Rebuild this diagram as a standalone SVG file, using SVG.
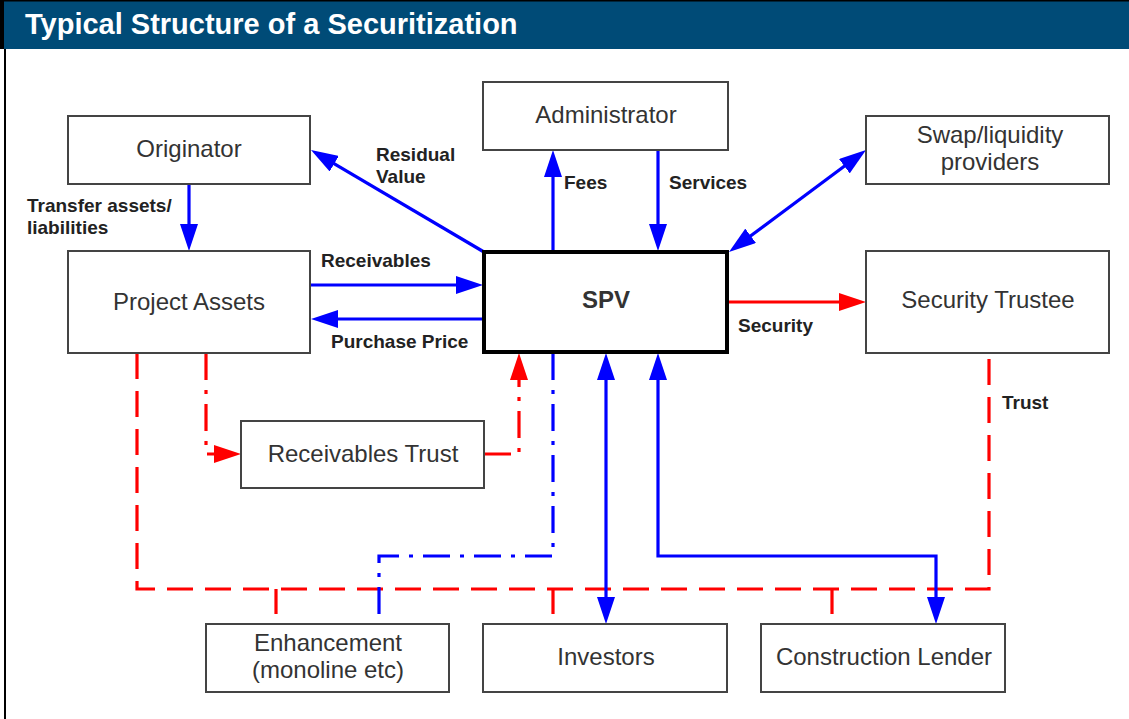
<svg xmlns="http://www.w3.org/2000/svg" width="1129" height="719" viewBox="0 0 1129 719">
<style>
.box{fill:#fff;stroke:#444;stroke-width:2}
.spv{fill:#fff;stroke:#000;stroke-width:4}
.bt{font-family:"Liberation Sans",Arial,sans-serif;font-size:24px;fill:#333;text-anchor:middle}
.lb{font-family:"Liberation Sans",Arial,sans-serif;font-size:19px;font-weight:bold;fill:#222}
.bl{fill:none;stroke:#0000ff;stroke-width:3.2}
.rd{fill:none;stroke:#ff0000;stroke-width:3.2}
.dash{stroke-dasharray:26 12}
.dd{stroke-dasharray:27 10 4 10}
</style>
<defs>
<marker id="ab" markerUnits="userSpaceOnUse" viewBox="0 0 27 18" markerWidth="27" markerHeight="18" refX="17" refY="9" orient="auto-start-reverse"><path d="M0,0 L27,9 L0,18 z" fill="#0000ff"/></marker>
<marker id="ar" markerUnits="userSpaceOnUse" viewBox="0 0 27 18" markerWidth="27" markerHeight="18" refX="17" refY="9" orient="auto-start-reverse"><path d="M0,0 L27,9 L0,18 z" fill="#ff0000"/></marker>
</defs>
<rect x="0" y="0" width="1129" height="719" fill="#fff"/>
<g id="header">
<rect x="0" y="0" width="1129" height="49" fill="#004b77"/>
<rect x="0" y="0" width="1129" height="1.5" fill="#000"/>
<rect x="0" y="0" width="4" height="49" fill="#000"/>
<rect x="4" y="49" width="2" height="670" fill="#000"/>
<text x="25" y="34" font-family="Liberation Sans,Arial,sans-serif" font-size="29" font-weight="bold" fill="#fff">Typical Structure of a Securitization</text>
</g>
<g id="connectors">
<path class="rd dash" d="M137,353 V589 H989 V353"/>
<path class="rd dash" d="M276,589 V614 M553,589 V614 M832,589 V614"/>
<path class="rd dd" d="M206,353 V454 H231" marker-end="url(#ar)"/>
<path class="rd dd" d="M484,454 H519 V363" marker-end="url(#ar)"/>
<path class="bl dd" d="M553,353 V556 H379 V624"/>
<path class="bl" d="M189,184 V241" marker-end="url(#ab)"/>
<path class="bl" d="M484,252 L319.6,155.1" marker-end="url(#ab)"/>
<path class="bl" d="M311,285 H473" marker-end="url(#ab)"/>
<path class="bl" d="M483,319 H321" marker-end="url(#ab)"/>
<path class="bl" d="M553,251 V160" marker-end="url(#ab)"/>
<path class="bl" d="M658,150 V241" marker-end="url(#ab)"/>
<path class="bl" d="M737,246 L858,156" marker-start="url(#ab)" marker-end="url(#ab)"/>
<path class="rd" d="M728,302 H856" marker-end="url(#ar)"/>
<path class="bl" d="M606,363 V614" marker-start="url(#ab)" marker-end="url(#ab)"/>
<path class="bl" d="M658,363 V556 H936 V614" marker-start="url(#ab)" marker-end="url(#ab)"/>
<text class="lb" x="376" y="161">Residual</text>
<text class="lb" x="376" y="183">Value</text>
<text class="lb" x="27" y="212">Transfer assets/</text>
<text class="lb" x="27" y="234">liabilities</text>
<text class="lb" x="321" y="267">Receivables</text>
<text class="lb" x="331" y="348">Purchase Price</text>
<text class="lb" x="564" y="189">Fees</text>
<text class="lb" x="669" y="189">Services</text>
<text class="lb" x="738" y="332">Security</text>
<text class="lb" x="1002" y="409">Trust</text>
</g>
<g id="originator"><rect class="box" x="68" y="116" width="242" height="68"/><text class="bt" x="189" y="157">Originator</text></g>
<g id="project-assets"><rect class="box" x="68" y="251" width="242" height="102"/><text class="bt" x="189" y="310">Project Assets</text></g>
<g id="administrator"><rect class="box" x="483" y="82" width="245" height="68"/><text class="bt" x="606" y="123">Administrator</text></g>
<g id="swap"><rect class="box" x="866" y="116" width="243" height="68"/><text class="bt" x="990" y="143">Swap/liquidity</text><text class="bt" x="990" y="170">providers</text></g>
<g id="spv"><rect class="spv" x="484" y="252" width="243" height="100"/><text class="bt" x="606" y="308" font-weight="bold" fill="#111">SPV</text></g>
<g id="security-trustee"><rect class="box" x="866" y="251" width="243" height="102"/><text class="bt" x="988" y="308">Security Trustee</text></g>
<g id="receivables-trust"><rect class="box" x="241" y="421" width="243" height="67"/><text class="bt" x="363" y="462">Receivables Trust</text></g>
<g id="enhancement"><rect class="box" x="206" y="624" width="243" height="68"/><text class="bt" x="328" y="651">Enhancement</text><text class="bt" x="328" y="678">(monoline etc)</text></g>
<g id="investors"><rect class="box" x="483" y="624" width="244" height="68"/><text class="bt" x="606" y="665">Investors</text></g>
<g id="construction-lender"><rect class="box" x="761" y="624" width="244" height="68"/><text class="bt" x="884" y="665">Construction Lender</text></g>
</svg>
